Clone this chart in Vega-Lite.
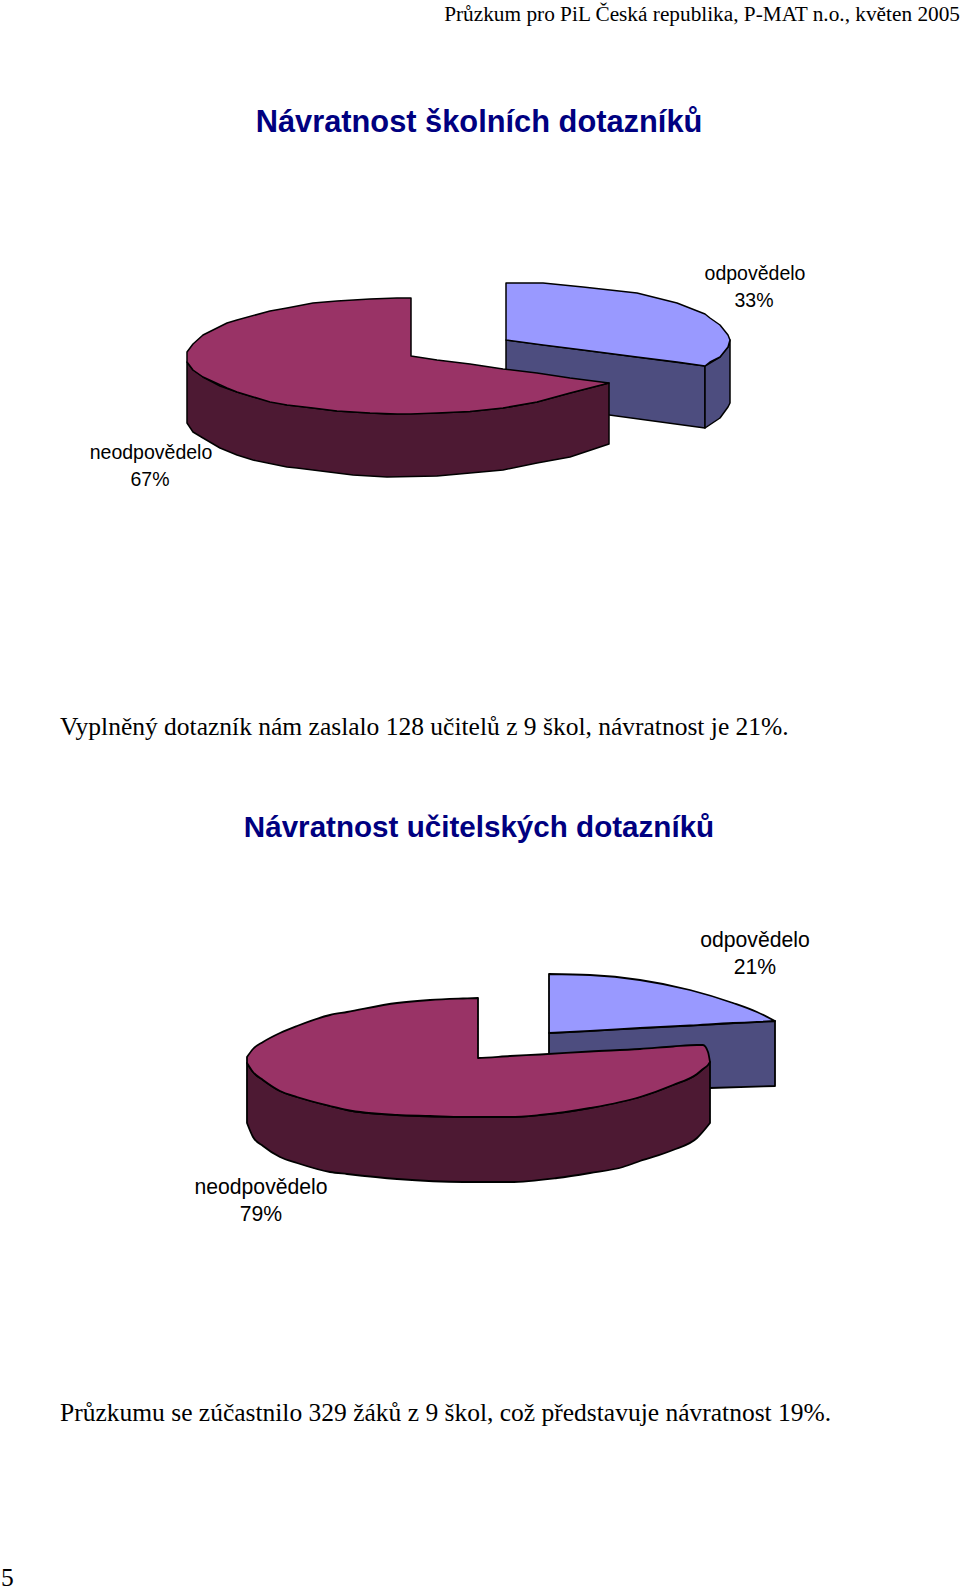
{
  "$schema": "https://vega.github.io/schema/vega-lite/v6.json",
  "width": 960,
  "height": 1591,
  "padding": 0,
  "autosize": {"type": "none"},
  "background": "white",
  "view": {"stroke": null},
  "datasets": {
    "faces": [
      {"pie": "skoly", "face": "odpovedelo front", "x": 506, "y": 340, "y2": 401},
      {"pie": "skoly", "face": "odpovedelo front", "x": 705, "y": 366, "y2": 428},
      {"pie": "skoly", "face": "odpovedelo side", "x": 705, "y": 366, "y2": 428},
      {"pie": "skoly", "face": "odpovedelo side", "x": 720, "y": 357, "y2": 418},
      {"pie": "skoly", "face": "odpovedelo side", "x": 728, "y": 347, "y2": 407},
      {"pie": "skoly", "face": "odpovedelo side", "x": 730, "y": 340, "y2": 403},
      {"pie": "skoly", "face": "odpovedelo top", "x": 506, "y": 283, "y2": 340},
      {"pie": "skoly", "face": "odpovedelo top", "x": 543, "y": 283, "y2": 345},
      {"pie": "skoly", "face": "odpovedelo top", "x": 583, "y": 287, "y2": 350},
      {"pie": "skoly", "face": "odpovedelo top", "x": 637, "y": 293, "y2": 357},
      {"pie": "skoly", "face": "odpovedelo top", "x": 677, "y": 303, "y2": 362},
      {"pie": "skoly", "face": "odpovedelo top", "x": 705, "y": 314, "y2": 366},
      {"pie": "skoly", "face": "odpovedelo top", "x": 710, "y": 318, "y2": 362},
      {"pie": "skoly", "face": "odpovedelo top", "x": 720, "y": 325, "y2": 357},
      {"pie": "skoly", "face": "odpovedelo top", "x": 728, "y": 335, "y2": 347},
      {"pie": "skoly", "face": "odpovedelo top", "x": 730, "y": 340, "y2": 340},
      {"pie": "skoly", "face": "neodpovedelo side", "x": 187, "y": 362, "y2": 423},
      {"pie": "skoly", "face": "neodpovedelo side", "x": 193, "y": 370, "y2": 432},
      {"pie": "skoly", "face": "neodpovedelo side", "x": 203, "y": 377, "y2": 438},
      {"pie": "skoly", "face": "neodpovedelo side", "x": 220, "y": 386, "y2": 448},
      {"pie": "skoly", "face": "neodpovedelo side", "x": 237, "y": 392, "y2": 455},
      {"pie": "skoly", "face": "neodpovedelo side", "x": 253, "y": 397, "y2": 460},
      {"pie": "skoly", "face": "neodpovedelo side", "x": 287, "y": 405, "y2": 467},
      {"pie": "skoly", "face": "neodpovedelo side", "x": 297, "y": 406, "y2": 468},
      {"pie": "skoly", "face": "neodpovedelo side", "x": 337, "y": 411, "y2": 473},
      {"pie": "skoly", "face": "neodpovedelo side", "x": 353, "y": 412, "y2": 475},
      {"pie": "skoly", "face": "neodpovedelo side", "x": 387, "y": 414, "y2": 477},
      {"pie": "skoly", "face": "neodpovedelo side", "x": 437, "y": 413, "y2": 476},
      {"pie": "skoly", "face": "neodpovedelo side", "x": 470, "y": 411.5, "y2": 473},
      {"pie": "skoly", "face": "neodpovedelo side", "x": 503, "y": 408, "y2": 470},
      {"pie": "skoly", "face": "neodpovedelo side", "x": 537, "y": 402, "y2": 463},
      {"pie": "skoly", "face": "neodpovedelo side", "x": 570, "y": 393, "y2": 457},
      {"pie": "skoly", "face": "neodpovedelo side", "x": 609, "y": 383, "y2": 444},
      {"pie": "skoly", "face": "neodpovedelo top", "x": 187, "y": 352, "y2": 362},
      {"pie": "skoly", "face": "neodpovedelo top", "x": 193, "y": 344, "y2": 370},
      {"pie": "skoly", "face": "neodpovedelo top", "x": 203, "y": 335, "y2": 377},
      {"pie": "skoly", "face": "neodpovedelo top", "x": 227, "y": 323, "y2": 388},
      {"pie": "skoly", "face": "neodpovedelo top", "x": 237, "y": 320, "y2": 392},
      {"pie": "skoly", "face": "neodpovedelo top", "x": 270, "y": 311, "y2": 402},
      {"pie": "skoly", "face": "neodpovedelo top", "x": 287, "y": 308, "y2": 405},
      {"pie": "skoly", "face": "neodpovedelo top", "x": 313, "y": 303, "y2": 408},
      {"pie": "skoly", "face": "neodpovedelo top", "x": 337, "y": 301, "y2": 411},
      {"pie": "skoly", "face": "neodpovedelo top", "x": 370, "y": 299, "y2": 413},
      {"pie": "skoly", "face": "neodpovedelo top", "x": 397, "y": 298, "y2": 414},
      {"pie": "skoly", "face": "neodpovedelo top", "x": 411, "y": 298, "y2": 414},
      {"pie": "skoly", "face": "neodpovedelo top", "x": 411, "y": 356, "y2": 414},
      {"pie": "skoly", "face": "neodpovedelo top", "x": 437, "y": 360, "y2": 413},
      {"pie": "skoly", "face": "neodpovedelo top", "x": 470, "y": 364, "y2": 411.5},
      {"pie": "skoly", "face": "neodpovedelo top", "x": 503, "y": 369, "y2": 408},
      {"pie": "skoly", "face": "neodpovedelo top", "x": 537, "y": 373, "y2": 402},
      {"pie": "skoly", "face": "neodpovedelo top", "x": 570, "y": 378, "y2": 393},
      {"pie": "skoly", "face": "neodpovedelo top", "x": 609, "y": 383, "y2": 383},
      {"pie": "ucitele", "face": "odpovedelo front", "x": 549, "y": 1033, "y2": 1095},
      {"pie": "ucitele", "face": "odpovedelo front", "x": 710, "y": 1024.5, "y2": 1088},
      {"pie": "ucitele", "face": "odpovedelo front", "x": 775, "y": 1021, "y2": 1086},
      {"pie": "ucitele", "face": "odpovedelo top", "x": 549, "y": 974, "y2": 1033},
      {"pie": "ucitele", "face": "odpovedelo top", "x": 590, "y": 975, "y2": 1031},
      {"pie": "ucitele", "face": "odpovedelo top", "x": 640, "y": 980, "y2": 1028},
      {"pie": "ucitele", "face": "odpovedelo top", "x": 690, "y": 990, "y2": 1025.5},
      {"pie": "ucitele", "face": "odpovedelo top", "x": 733, "y": 1003, "y2": 1023},
      {"pie": "ucitele", "face": "odpovedelo top", "x": 757, "y": 1012, "y2": 1022},
      {"pie": "ucitele", "face": "odpovedelo top", "x": 775, "y": 1021, "y2": 1021},
      {"pie": "ucitele", "face": "neodpovedelo side", "x": 247, "y": 1063, "y2": 1123},
      {"pie": "ucitele", "face": "neodpovedelo side", "x": 253, "y": 1072, "y2": 1137},
      {"pie": "ucitele", "face": "neodpovedelo side", "x": 263, "y": 1080, "y2": 1146},
      {"pie": "ucitele", "face": "neodpovedelo side", "x": 280, "y": 1091, "y2": 1157},
      {"pie": "ucitele", "face": "neodpovedelo side", "x": 297, "y": 1097, "y2": 1163},
      {"pie": "ucitele", "face": "neodpovedelo side", "x": 330, "y": 1106, "y2": 1172},
      {"pie": "ucitele", "face": "neodpovedelo side", "x": 347, "y": 1110, "y2": 1174},
      {"pie": "ucitele", "face": "neodpovedelo side", "x": 397, "y": 1115, "y2": 1179},
      {"pie": "ucitele", "face": "neodpovedelo side", "x": 463, "y": 1117, "y2": 1182},
      {"pie": "ucitele", "face": "neodpovedelo side", "x": 510, "y": 1117, "y2": 1182},
      {"pie": "ucitele", "face": "neodpovedelo side", "x": 557, "y": 1113, "y2": 1178},
      {"pie": "ucitele", "face": "neodpovedelo side", "x": 590, "y": 1108, "y2": 1173},
      {"pie": "ucitele", "face": "neodpovedelo side", "x": 623, "y": 1101, "y2": 1167},
      {"pie": "ucitele", "face": "neodpovedelo side", "x": 640, "y": 1097, "y2": 1161},
      {"pie": "ucitele", "face": "neodpovedelo side", "x": 673, "y": 1085, "y2": 1150},
      {"pie": "ucitele", "face": "neodpovedelo side", "x": 697, "y": 1074, "y2": 1138},
      {"pie": "ucitele", "face": "neodpovedelo side", "x": 710, "y": 1062, "y2": 1123},
      {"pie": "ucitele", "face": "neodpovedelo top", "x": 247, "y": 1057, "y2": 1063},
      {"pie": "ucitele", "face": "neodpovedelo top", "x": 253, "y": 1049, "y2": 1072},
      {"pie": "ucitele", "face": "neodpovedelo top", "x": 263, "y": 1042, "y2": 1080},
      {"pie": "ucitele", "face": "neodpovedelo top", "x": 280, "y": 1033, "y2": 1091},
      {"pie": "ucitele", "face": "neodpovedelo top", "x": 297, "y": 1026, "y2": 1097},
      {"pie": "ucitele", "face": "neodpovedelo top", "x": 330, "y": 1015, "y2": 1106},
      {"pie": "ucitele", "face": "neodpovedelo top", "x": 347, "y": 1012, "y2": 1110},
      {"pie": "ucitele", "face": "neodpovedelo top", "x": 397, "y": 1003, "y2": 1115},
      {"pie": "ucitele", "face": "neodpovedelo top", "x": 430, "y": 1000, "y2": 1116},
      {"pie": "ucitele", "face": "neodpovedelo top", "x": 463, "y": 998.5, "y2": 1117},
      {"pie": "ucitele", "face": "neodpovedelo top", "x": 478, "y": 998, "y2": 1117},
      {"pie": "ucitele", "face": "neodpovedelo top", "x": 478, "y": 1058, "y2": 1117},
      {"pie": "ucitele", "face": "neodpovedelo top", "x": 510, "y": 1056, "y2": 1117},
      {"pie": "ucitele", "face": "neodpovedelo top", "x": 540, "y": 1054.5, "y2": 1115},
      {"pie": "ucitele", "face": "neodpovedelo top", "x": 590, "y": 1051.5, "y2": 1108},
      {"pie": "ucitele", "face": "neodpovedelo top", "x": 640, "y": 1049, "y2": 1097},
      {"pie": "ucitele", "face": "neodpovedelo top", "x": 673, "y": 1046.5, "y2": 1085},
      {"pie": "ucitele", "face": "neodpovedelo top", "x": 697, "y": 1045, "y2": 1074},
      {"pie": "ucitele", "face": "neodpovedelo top", "x": 703, "y": 1045, "y2": 1069},
      {"pie": "ucitele", "face": "neodpovedelo top", "x": 708, "y": 1052, "y2": 1065},
      {"pie": "ucitele", "face": "neodpovedelo top", "x": 710, "y": 1062, "y2": 1062}
    ],
    "title1": [
      {"text": "Návratnost školních dotazníků", "x": 479, "y": 123}
    ],
    "title2": [
      {"text": "Návratnost učitelských dotazníků", "x": 479, "y": 828}
    ],
    "labels1": [
      {"text": "odpovědelo", "x": 755, "y": 274},
      {"text": "33%", "x": 754, "y": 301},
      {"text": "neodpovědelo", "x": 151, "y": 453},
      {"text": "67%", "x": 150, "y": 480}
    ],
    "labels2": [
      {"text": "odpovědelo", "x": 755, "y": 941},
      {"text": "21%", "x": 755, "y": 968},
      {"text": "neodpovědelo", "x": 261, "y": 1188},
      {"text": "79%", "x": 261, "y": 1215}
    ],
    "paragraphs": [
      {"text": "Vyplněný dotazník nám zaslalo 128 učitelů z 9 škol, návratnost je 21%.", "x": 60, "y": 727},
      {"text": "Průzkumu se zúčastnilo 329 žáků z 9 škol, což představuje návratnost 19%.", "x": 60, "y": 1413},
      {"text": "5", "x": 1, "y": 1578}
    ],
    "header": [
      {"text": "Průzkum pro PiL Česká republika, P-MAT n.o., květen 2005", "x": 960, "y": 15}
    ]
  },
  "layer": [
    {
      "data": {"name": "faces"},
      "transform": [{"filter": "datum.pie === 'skoly'"}],
      "mark": {"type": "area", "stroke": "black", "strokeWidth": 1.5, "strokeJoin": "round", "opacity": 1},
      "encoding": {
        "x": {"field": "x", "type": "quantitative", "scale": {"domain": [0, 960], "nice": false}, "axis": null},
        "y": {"field": "y", "type": "quantitative", "scale": {"domain": [1591, 0], "nice": false}, "axis": null, "stack": null},
        "y2": {"field": "y2"},
        "color": {
          "field": "face",
          "type": "nominal",
          "legend": null,
          "scale": {
            "domain": ["odpovedelo front", "odpovedelo side", "odpovedelo top", "neodpovedelo side", "neodpovedelo top"],
            "range": ["#4d4d7f", "#4d4d7f", "#9999ff", "#4d1933", "#993366"]
          }
        }
      }
    },
    {
      "data": {"name": "faces"},
      "transform": [{"filter": "datum.pie === 'ucitele'"}],
      "mark": {"type": "area", "interpolate": "monotone", "stroke": "black", "strokeWidth": 1.8, "strokeJoin": "round", "opacity": 1},
      "encoding": {
        "x": {"field": "x", "type": "quantitative", "scale": {"domain": [0, 960], "nice": false}, "axis": null},
        "y": {"field": "y", "type": "quantitative", "scale": {"domain": [1591, 0], "nice": false}, "axis": null, "stack": null},
        "y2": {"field": "y2"},
        "color": {
          "field": "face",
          "type": "nominal",
          "legend": null,
          "scale": {
            "domain": ["odpovedelo front", "odpovedelo side", "odpovedelo top", "neodpovedelo side", "neodpovedelo top"],
            "range": ["#4d4d7f", "#4d4d7f", "#9999ff", "#4d1933", "#993366"]
          }
        }
      }
    },
    {
      "data": {"name": "title1"},
      "mark": {"type": "text", "font": "Liberation Sans", "fontWeight": "bold", "fontSize": 30.8, "color": "#000080", "baseline": "middle", "align": "center"},
      "encoding": {
        "x": {"field": "x", "type": "quantitative", "scale": {"domain": [0, 960], "nice": false}, "axis": null},
        "y": {"field": "y", "type": "quantitative", "scale": {"domain": [1591, 0], "nice": false}, "axis": null},
        "text": {"field": "text"}
      }
    },
    {
      "data": {"name": "title2"},
      "mark": {"type": "text", "font": "Liberation Sans", "fontWeight": "bold", "fontSize": 29.6, "color": "#000080", "baseline": "middle", "align": "center"},
      "encoding": {
        "x": {"field": "x", "type": "quantitative", "scale": {"domain": [0, 960], "nice": false}, "axis": null},
        "y": {"field": "y", "type": "quantitative", "scale": {"domain": [1591, 0], "nice": false}, "axis": null},
        "text": {"field": "text"}
      }
    },
    {
      "data": {"name": "labels1"},
      "mark": {"type": "text", "font": "Liberation Sans", "fontSize": 19.5, "color": "black", "baseline": "middle", "align": "center"},
      "encoding": {
        "x": {"field": "x", "type": "quantitative", "scale": {"domain": [0, 960], "nice": false}, "axis": null},
        "y": {"field": "y", "type": "quantitative", "scale": {"domain": [1591, 0], "nice": false}, "axis": null},
        "text": {"field": "text"}
      }
    },
    {
      "data": {"name": "labels2"},
      "mark": {"type": "text", "font": "Liberation Sans", "fontSize": 21.2, "color": "black", "baseline": "middle", "align": "center"},
      "encoding": {
        "x": {"field": "x", "type": "quantitative", "scale": {"domain": [0, 960], "nice": false}, "axis": null},
        "y": {"field": "y", "type": "quantitative", "scale": {"domain": [1591, 0], "nice": false}, "axis": null},
        "text": {"field": "text"}
      }
    },
    {
      "data": {"name": "paragraphs"},
      "mark": {"type": "text", "font": "Liberation Serif", "fontSize": 25.5, "color": "black", "baseline": "middle", "align": "left"},
      "encoding": {
        "x": {"field": "x", "type": "quantitative", "scale": {"domain": [0, 960], "nice": false}, "axis": null},
        "y": {"field": "y", "type": "quantitative", "scale": {"domain": [1591, 0], "nice": false}, "axis": null},
        "text": {"field": "text"}
      }
    },
    {
      "data": {"name": "header"},
      "mark": {"type": "text", "font": "Liberation Serif", "fontSize": 21.3, "color": "black", "baseline": "middle", "align": "right"},
      "encoding": {
        "x": {"field": "x", "type": "quantitative", "scale": {"domain": [0, 960], "nice": false}, "axis": null},
        "y": {"field": "y", "type": "quantitative", "scale": {"domain": [1591, 0], "nice": false}, "axis": null},
        "text": {"field": "text"}
      }
    }
  ]
}
